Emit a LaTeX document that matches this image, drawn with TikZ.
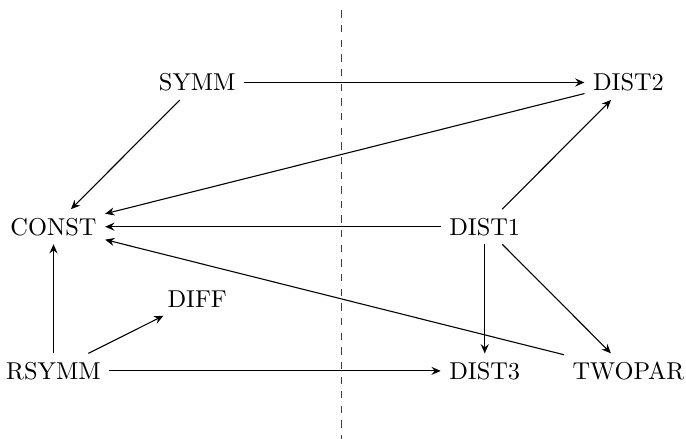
\documentclass[tikz,border=0pt]{standalone}
\usetikzlibrary{arrows.meta}
\begin{document}
\begin{tikzpicture}[x=0.4098pt,y=-0.4098pt,
  lab/.style={inner sep=3.33pt},
  link/.style={-{Stealth[length=3.8pt,width=3.3pt,inset=1.3pt]},line width=0.45pt}]
\useasboundingbox (0,0) rectangle (686,439);
% separator
\draw[dashed,line width=0.4pt,black!75] (341.5,10.5) -- (341.5,439);
% nodes on a grid
\node[lab] (symm)   at (197.25,82.5)  {SYMM};
\node[lab] (dist2)  at (628.5,82.5)   {DIST2};
\node[lab] (const)  at (53.5,226.7)   {CONST};
\node[lab] (dist1)  at (484.75,226.7) {DIST1};
\node[lab] (diff)   at (197.25,298.8) {DIFF};
\node[lab] (rsymm)  at (53.5,370.9)   {RSYMM};
\node[lab] (dist3)  at (484.75,370.9) {DIST3};
\node[lab] (twopar) at (628.5,370.9)  {TWOPAR};
% dependencies
\draw[link] (symm) -- (dist2);
\draw[link] (symm) -- (const);
\draw[link] (dist2) -- (const);
\draw[link] (dist1) -- (const);
\draw[link] (dist1) -- (dist2);
\draw[link] (dist1) -- (dist3);
\draw[link] (dist1) -- (twopar);
\draw[link] (twopar) -- (const);
\draw[link] (rsymm) -- (const);
\draw[link] (rsymm) -- (diff);
\draw[link] (rsymm) -- (dist3);
\end{tikzpicture}
\end{document}
